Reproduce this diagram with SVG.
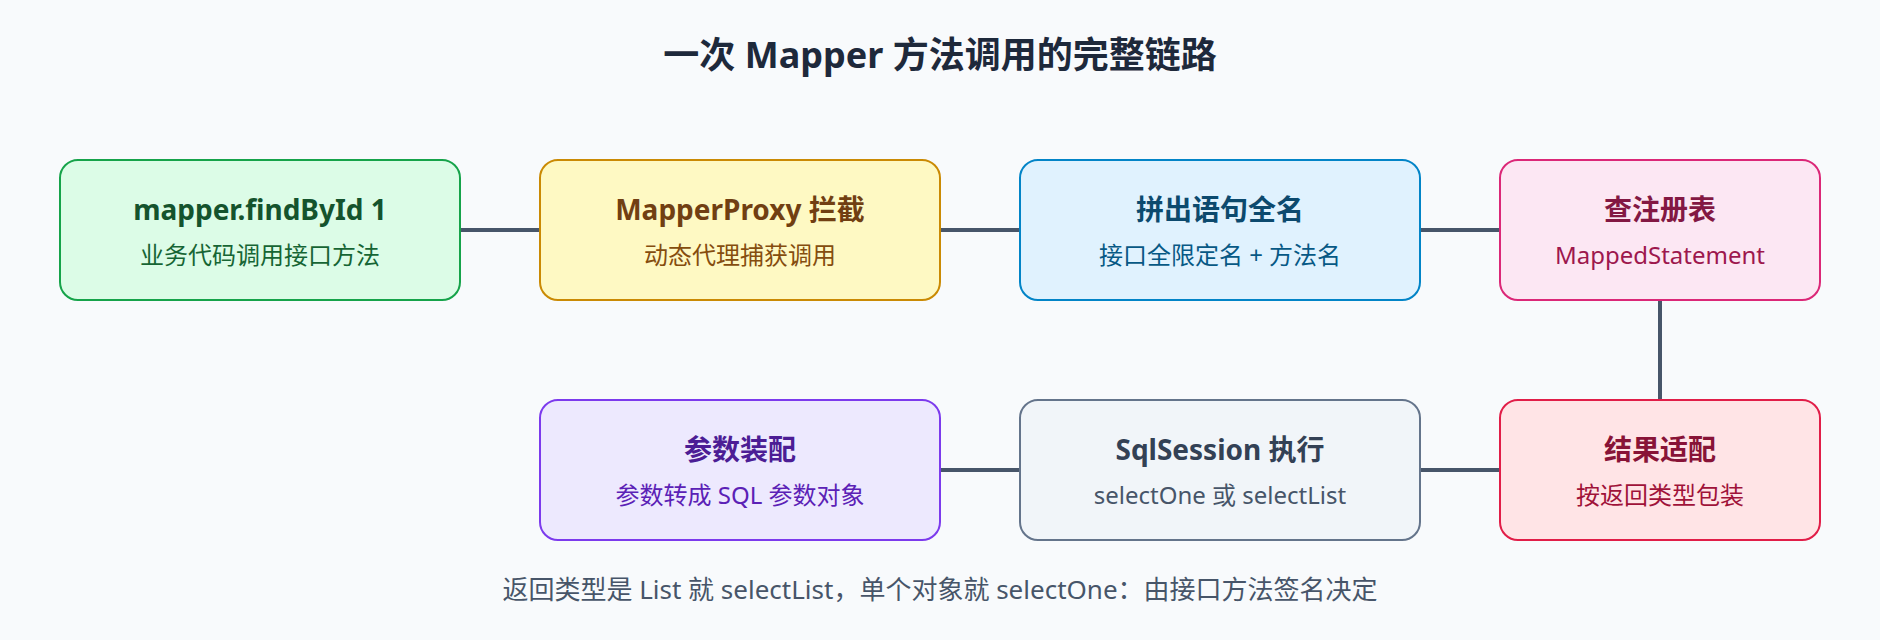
<svg xmlns="http://www.w3.org/2000/svg" width="1880" height="640" viewBox="0 0 1880 640">
  <style>
    text { font-family: "Noto Sans", "Noto Sans CJK SC", sans-serif; text-anchor: middle; }
    .title { font-size: 36px; font-weight: 700; fill: #1e293b; }
    .nt { font-size: 28px; font-weight: 700; }
    .ns { font-size: 24px; font-weight: 400; }
    .foot { font-size: 26px; fill: #475569; }
    .box { stroke-width: 2; }
    .conn { stroke: #475569; stroke-width: 4; fill: none; }
  </style>
  <rect x="0" y="0" width="1880" height="640" fill="#f8fafc"/>
  <text class="title" x="940" y="68">一次 Mapper 方法调用的完整链路</text>

  <g id="connectors">
    <line class="conn" x1="460" y1="230" x2="540" y2="230"/>
    <line class="conn" x1="940" y1="230" x2="1020" y2="230"/>
    <line class="conn" x1="1420" y1="230" x2="1500" y2="230"/>
    <line class="conn" x1="1660" y1="300" x2="1660" y2="400"/>
    <line class="conn" x1="1420" y1="470" x2="1500" y2="470"/>
    <line class="conn" x1="940" y1="470" x2="1020" y2="470"/>
  </g>

  <g id="node-call">
    <rect class="box" x="60" y="160" width="400" height="140" rx="18" fill="#dcfce7" stroke="#16a34a"/>
    <text class="nt" x="260" y="220" fill="#14532d">mapper.findById 1</text>
    <text class="ns" x="260" y="264" fill="#166534">业务代码调用接口方法</text>
  </g>
  <g id="node-proxy">
    <rect class="box" x="540" y="160" width="400" height="140" rx="18" fill="#fef9c3" stroke="#ca8a04"/>
    <text class="nt" x="740" y="220" fill="#713f12">MapperProxy 拦截</text>
    <text class="ns" x="740" y="264" fill="#854d0e">动态代理捕获调用</text>
  </g>
  <g id="node-name">
    <rect class="box" x="1020" y="160" width="400" height="140" rx="18" fill="#e0f2fe" stroke="#0284c7"/>
    <text class="nt" x="1220" y="220" fill="#0c4a6e">拼出语句全名</text>
    <text class="ns" x="1220" y="264" fill="#075985">接口全限定名 + 方法名</text>
  </g>
  <g id="node-registry">
    <rect class="box" x="1500" y="160" width="320" height="140" rx="18" fill="#fce7f3" stroke="#db2777"/>
    <text class="nt" x="1660" y="220" fill="#831843">查注册表</text>
    <text class="ns" x="1660" y="264" fill="#9d174d">MappedStatement</text>
  </g>
  <g id="node-result">
    <rect class="box" x="1500" y="400" width="320" height="140" rx="18" fill="#ffe4e6" stroke="#e11d48"/>
    <text class="nt" x="1660" y="460" fill="#881337">结果适配</text>
    <text class="ns" x="1660" y="504" fill="#9f1239">按返回类型包装</text>
  </g>
  <g id="node-session">
    <rect class="box" x="1020" y="400" width="400" height="140" rx="18" fill="#f1f5f9" stroke="#64748b"/>
    <text class="nt" x="1220" y="460" fill="#334155">SqlSession 执行</text>
    <text class="ns" x="1220" y="504" fill="#475569">selectOne 或 selectList</text>
  </g>
  <g id="node-params">
    <rect class="box" x="540" y="400" width="400" height="140" rx="18" fill="#ede9fe" stroke="#7c3aed"/>
    <text class="nt" x="740" y="460" fill="#4c1d95">参数装配</text>
    <text class="ns" x="740" y="504" fill="#5b21b6">参数转成 SQL 参数对象</text>
  </g>

  <text class="foot" x="940" y="599">返回类型是 List 就 selectList，单个对象就 selectOne：由接口方法签名决定</text>
</svg>
